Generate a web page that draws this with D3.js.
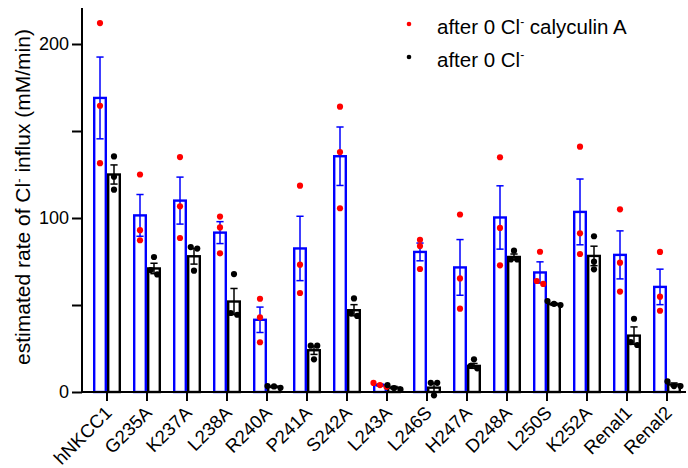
<!DOCTYPE html>
<html>
<head>
<meta charset="utf-8">
<script src="https://cdn.jsdelivr.net/npm/d3@7"></script>
<style>
  body { margin: 0; background: #fff; }
  svg { font-family: "Liberation Sans", Arial, sans-serif; }
</style>
</head>
<body>
<svg width="688" height="468"></svg>
<script>
// constructs on the x axis
var groups = ["hNKCC1", "G235A", "K237A", "L238A", "R240A", "P241A", "S242A", "L243A",
  "L246S", "H247A", "D248A", "L250S", "K252A", "Renal1", "Renal2"]

// after 0 Cl- calyculin A (blue bars, red dots)
var calyMean = [169, 101.5, 110, 91.6, 41.5, 82.5, 135.5, 4, 80.5, 71.6, 100.3, 68.7, 103.5, 78.8, 60.4]
var calySem = [23.5, 12, 13.5, 6.3, 7.3, 18.5, 16.8, 0.6, 5.1, 16, 18.2, 6.1, 18.9, 13.8, 10.2]
var calyPoints = [[212, 164.5, 131.5], [125, 93, 87.2], [135, 106.7, 88.5], [100.8, 94.6, 79.7],
  [53.6, 42.9, 28.6], [118.6, 73.2, 56.9], [164, 137.9, 105.6], [3, 5.2, 4], [87.5, 83.9, 70.7],
  [102, 65.3, 47.9], [134.9, 94.3, 72.8], [80.6, 63.8, 62.1], [141, 91.2, 79.3], [105, 74.3, 57.7],
  [80.5, 54.8, 46.7]]

// after 0 Cl- (black bars, black dots)
var ctrlMean = [125, 71, 78, 52, 3, 24, 47, 2.5, 2.5, 15, 77.6, 50.5, 78.2, 32.4, 4.3]
var ctrlSem = [5.5, 3, 4.5, 7.5, 0.5, 2.4, 3.2, 0.7, 2.5, 1.4, 1.7, 0.7, 5.6, 5, 0.9]
var ctrlPoints = [[135.4, 123.7, 116.3], [77.6, 67.6, 70.1], [83.3, 82.4, 69.7], [67.8, 44.4, 45.4],
  [3.4, 2.4, 3.2], [26.6, 26.6, 18.8], [53.8, 45.2, 43.7], [4, 2.3, 1.5], [5.3, 5.3, -1.9],
  [18.8, 13.6, 15], [81.2, 76.2, 76.2], [52.3, 50, 50.7], [89.5, 74.9, 70.5], [42.1, 27, 28.7],
  [6.1, 3.4, 3.4]]

var yTicks = [0, 100, 200]

var svg = d3.select("svg")

var x = d3.scaleBand().domain(groups).range([87, 687])
var sub = d3.scaleBand().domain(["caly", "ctrl"]).range([6, 34])
var y = d3.scaleLinear().domain([0, 220]).range([392, 9.2])

var series = [
  { key: "caly", mean: calyMean, sem: calySem, pts: calyPoints, line: "#0000ff", dot: "#ff0000" },
  { key: "ctrl", mean: ctrlMean, sem: ctrlSem, pts: ctrlPoints, line: "#000000", dot: "#000000" }
]

// bars
series.forEach(function(s) {
  var cx = function(i) { return x(groups[i]) + sub(s.key) + sub.bandwidth() / 2 }
  var g = svg.append("g")
  g.selectAll("rect")
    .data(s.mean)
    .enter().append("rect")
      .attr("x", function(d, i) { return cx(i) - 5.8 })
      .attr("y", function(d) { return y(d) })
      .attr("width", 11.6)
      .attr("height", function(d) { return y(0) - y(d) })
      .attr("fill", "none")
      .attr("stroke", s.line)
      .attr("stroke-width", 2.4)

  // error bars (mean +/- sem)
  var e = g.selectAll("g.err")
    .data(s.mean)
    .enter().append("g")
      .attr("stroke", s.line)
      .attr("stroke-width", 1.5)
  e.append("line")
    .attr("x1", function(d, i) { return cx(i) })
    .attr("x2", function(d, i) { return cx(i) })
    .attr("y1", function(d, i) { return y(d + s.sem[i]) })
    .attr("y2", function(d, i) { return y(d - s.sem[i]) })
  ;[1, -1].forEach(function(sign) {
    e.append("line")
      .attr("x1", function(d, i) { return cx(i) - 3.6 })
      .attr("x2", function(d, i) { return cx(i) + 3.6 })
      .attr("y1", function(d, i) { return y(d + sign * s.sem[i]) })
      .attr("y2", function(d, i) { return y(d + sign * s.sem[i]) })
  })
})

// dots: points closer than ~5px vertically sit side by side, centred on the bar
var r = 3.1
series.forEach(function(s) {
  var all = []
  s.pts.forEach(function(p, i) {
    var c = x(groups[i]) + sub(s.key) + sub.bandwidth() / 2
    var ys = p.map(function(v) { return y(v) }).sort(d3.ascending)
    var clusters = []
    ys.forEach(function(py) {
      var last = clusters[clusters.length - 1]
      if (last && py - last[last.length - 1] < 5) last.push(py)
      else clusters.push([py])
    })
    clusters.forEach(function(cl) {
      cl.forEach(function(py, k) {
        all.push([c + (k - (cl.length - 1) / 2) * 6.5, py])
      })
    })
  })
  svg.append("g").selectAll("circle")
    .data(all)
    .enter().append("circle")
      .attr("cx", function(d) { return d[0] })
      .attr("cy", function(d) { return d[1] })
      .attr("r", r)
      .attr("fill", s.dot)
})

// axes
var xAxis = svg.append("g")
  .attr("transform", "translate(0," + y(0) + ")")
  .call(d3.axisBottom(x).tickSize(9).tickFormat(""))
xAxis.select(".domain").attr("d", "M82,0H686")
xAxis.selectAll("line, path").attr("stroke", "#000").attr("stroke-width", 2)

svg.append("g").selectAll("text")
  .data(groups)
  .enter().append("text")
    .attr("transform", function(d) { return "translate(" + (x(d) + x.bandwidth() / 2 + 1.5) + ",409.5) rotate(-45)" })
    .attr("text-anchor", "end")
    .attr("dy", "0.35em")
    .attr("font-size", 18.5)
    .text(function(d) { return d })

var yAxis = svg.append("g")
  .attr("transform", "translate(82,0)")
  .call(d3.axisLeft(y).tickValues(d3.range(0, 201, 50)).tickSize(10).tickSizeOuter(0)
    .tickFormat(function(d) { return yTicks.indexOf(d) >= 0 ? d : "" }))
yAxis.selectAll("line, path").attr("stroke", "#000").attr("stroke-width", 2)
yAxis.select(".domain").attr("d", "M0,392V8")
yAxis.selectAll("text").attr("font-size", 18).attr("fill", "#000").attr("x", -13)

// y title
var yt = svg.append("text")
  .attr("transform", "translate(30,197) rotate(-90)")
  .attr("text-anchor", "middle")
  .attr("font-size", 21)
yt.append("tspan").text("estimated rate of Cl")
yt.append("tspan").attr("dy", -7).attr("font-size", 13).text("-")
yt.append("tspan").attr("dy", 7).text(" influx (mM/min)")

// legend
var legend = [
  { color: "#ff0000", label: " calyculin A" },
  { color: "#000000", label: "" }
]
var lg = svg.append("g").selectAll("g")
  .data(legend)
  .enter().append("g")
    .attr("transform", function(d, i) { return "translate(409," + (24 + i * 33) + ")" })
lg.append("circle").attr("r", 2.3).attr("fill", function(d) { return d.color })
var lt = lg.append("text").attr("x", 28).attr("y", 9.5).attr("font-size", 20.5)
lt.append("tspan").text("after 0 Cl")
lt.append("tspan").attr("dy", -7.5).attr("font-size", 12).text("-")
lt.append("tspan").attr("dy", 7.5).text(function(d) { return d.label })
</script>
</body>
</html>
